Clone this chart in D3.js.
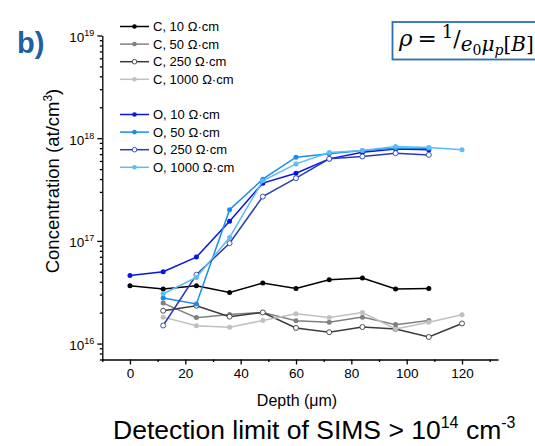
<!DOCTYPE html>
<html>
<head>
<meta charset="utf-8">
<script src="https://cdn.jsdelivr.net/npm/d3@7"></script>
<style>
  body { margin: 0; background: #fff; }
  svg { display: block; font-family: "Liberation Sans", Arial, sans-serif; }
  .axis path, .axis line { stroke: #000; stroke-width: 1.3; }
  .axis text { font-size: 13.5px; fill: #000; font-family: "Liberation Sans", Arial, sans-serif; }
  .legend text { font-size: 13px; }
</style>
</head>
<body>
<div id="chart"></div>
<script>
// depth positions (µm)
const depth0to108  = [0, 12, 24, 36, 48, 60, 72, 84, 96, 108];
const depth12to108 = [12, 24, 36, 48, 60, 72, 84, 96, 108];
const depth12to120 = [12, 24, 36, 48, 60, 72, 84, 96, 108, 120];

// concentrations (at/cm3)
const c10   = [3.66e16, 3.4e16, 3.66e16, 3.15e16, 3.88e16, 3.44e16, 4.19e16, 4.35e16, 3.4e16, 3.44e16];
const c50   = [2.48e16, 1.79e16, 1.92e16, 2.01e16, 1.67e16, 1.61e16, 1.81e16, 1.53e16, 1.68e16];
const c250  = [2.09e16, 2.34e16, 1.83e16, 2.01e16, 1.42e16, 1.29e16, 1.45e16, 1.39e16, 1.16e16, 1.57e16];
const c1000 = [1.81e16, 1.49e16, 1.44e16, 1.68e16, 1.95e16, 1.8e16, 2.01e16, 1.39e16, 1.61e16, 1.91e16];
const o10   = [4.61e16, 5.0e16, 6.95e16, 1.55e17, 3.65e17, 4.56e17, 6.29e17, 7.31e17, 7.87e17, 7.7e17];
const o50   = [2.78e16, 2.43e16, 2.01e17, 3.99e17, 6.54e17, 7.04e17, 7.57e17, 8.0e17, 8.0e17];
const o250  = [1.5e16, 4.68e16, 9.5e16, 2.7e17, 4.08e17, 6.3e17, 6.63e17, 7.15e17, 6.88e17];
const o1000 = [3.06e16, 4.41e16, 1.08e17, 3.85e17, 5.62e17, 7.24e17, 7.57e17, 8.3e17, 8.1e17, 7.7e17];

const seriesNames = ["C, 10 \u03A9\u00B7cm", "C, 50 \u03A9\u00B7cm", "C, 250 \u03A9\u00B7cm", "C, 1000 \u03A9\u00B7cm",
                     "O, 10 \u03A9\u00B7cm", "O, 50 \u03A9\u00B7cm", "O, 250 \u03A9\u00B7cm", "O, 1000 \u03A9\u00B7cm"];
const xTicks = [0, 20, 40, 60, 80, 100, 120];
const xMinor = [-10, 10, 30, 50, 70, 90, 110, 130];
const yExps  = [16, 17, 18, 19];

const series = [
  { name: seriesNames[0], x: depth0to108,  y: c10,   color: "#000000", open: false },
  { name: seriesNames[1], x: depth12to108, y: c50,   color: "#808080", open: false },
  { name: seriesNames[2], x: depth12to120, y: c250,  color: "#3c3c3c", open: true  },
  { name: seriesNames[3], x: depth12to120, y: c1000, color: "#c0c0c0", open: false },
  { name: seriesNames[4], x: depth0to108,  y: o10,   color: "#0a14e6", open: false },
  { name: seriesNames[5], x: depth12to108, y: o50,   color: "#1a8cf0", open: false },
  { name: seriesNames[6], x: depth12to108, y: o250,  color: "#2a3cb4", open: true  },
  { name: seriesNames[7], x: depth12to120, y: o1000, color: "#5cbcf6", open: false }
];

const W = 535, H = 446;
const svg = d3.select("#chart").append("svg").attr("width", W).attr("height", H);

// plot box: left axis at x≈102, bottom axis at y≈359.5
const x = d3.scaleLinear().domain([-10, 133]).range([102.3, 498]);
const y = d3.scaleLog().domain([7e15, 1e19]).range([359.5, 35.5]);

// lines + markers
const line = d3.line().x(d => x(d[0])).y(d => y(d[1]));
series.forEach(s => {
  const pts = s.x.map((d, i) => [d, s.y[i]]);
  svg.append("path").datum(pts)
    .attr("fill", "none").attr("stroke", s.color).attr("stroke-width", 1.5)
    .attr("d", line);
  svg.append("g").selectAll("circle").data(pts).join("circle")
    .attr("cx", d => x(d[0])).attr("cy", d => y(d[1])).attr("r", 2.5)
    .attr("fill", s.open ? "#fff" : s.color)
    .attr("stroke", s.color).attr("stroke-width", s.open ? 0.9 : 0);
});

// x axis, major + minor ticks
svg.append("g").attr("class", "axis")
  .attr("transform", `translate(0,${y.range()[0]})`)
  .call(d3.axisBottom(x).tickValues(xTicks).tickSize(5).tickSizeOuter(0).tickPadding(4));
svg.append("g").attr("class", "axis")
  .attr("transform", `translate(0,${y.range()[0]})`)
  .call(d3.axisBottom(x).tickValues(xMinor).tickSize(2.5).tickSizeOuter(0).tickFormat(""))
  .select(".domain").remove();

// y axis (log), labels written as 10^n
const yMinor = [];
[15, 16, 17, 18].forEach(e => d3.range(2, 10).forEach(m => {
  const v = m * Math.pow(10, e);
  if (v >= 7e15 && v <= 1e19) yMinor.push(v);
}));
const yAxis = svg.append("g").attr("class", "axis")
  .attr("transform", `translate(${x.range()[0]},0)`)
  .call(d3.axisLeft(y).tickValues(yExps.map(e => Math.pow(10, e))).tickSize(5).tickSizeOuter(0).tickFormat(""));
yAxis.selectAll(".tick text").each(function (d) {
  const t = d3.select(this).attr("x", -8).attr("dy", "0.45em").attr("text-anchor", "end");
  t.append("tspan").text("10");
  t.append("tspan").attr("dy", -6).attr("font-size", 9).text(Math.round(Math.log10(d)));
});
svg.append("g").attr("class", "axis")
  .attr("transform", `translate(${x.range()[0]},0)`)
  .call(d3.axisLeft(y).tickValues(yMinor).tickSize(2.5).tickSizeOuter(0).tickFormat(""))
  .select(".domain").remove();

// axis titles
svg.append("text").attr("x", 297).attr("y", 406).attr("text-anchor", "middle")
  .attr("font-size", 16).text("Depth (\u03BCm)");
const yt = svg.append("text").attr("transform", "translate(59,181) rotate(-90)")
  .attr("text-anchor", "middle").attr("font-size", 18.5);
yt.append("tspan").text("Concentration (at/cm");
yt.append("tspan").attr("dy", -7).attr("font-size", 12).text("3");
yt.append("tspan").attr("dy", 7).text(")");

// legend
const legend = svg.append("g").attr("class", "legend");
series.forEach((s, i) => {
  const ly = 26.5 + (i < 4 ? i : i + 1) * 17.6;
  const g = legend.append("g").attr("transform", `translate(120,${ly})`);
  g.append("line").attr("x1", 0).attr("x2", 29).attr("stroke", s.color).attr("stroke-width", 1.5);
  g.append("circle").attr("cx", 14.5).attr("r", 2.3)
    .attr("fill", s.open ? "#fff" : s.color).attr("stroke", s.color).attr("stroke-width", s.open ? 0.9 : 0);
  g.append("text").attr("x", 33).attr("y", 4.6).text(s.name);
});

// panel label
svg.append("text").attr("x", 17).attr("y", 53).attr("font-size", 29).attr("font-weight", "bold")
  .attr("fill", "#1f5fa6").text("b)");

// formula box
svg.append("rect").attr("x", 392.5).attr("y", 22).attr("width", 170).attr("height", 37.5)
  .attr("fill", "none").attr("stroke", "#2f6eb5").attr("stroke-width", 1.8);
const f = svg.append("text").attr("x", 399).attr("y", 46).attr("font-size", 23)
  .attr("font-family", "'DejaVu Serif', 'Liberation Serif', serif");
f.append("tspan").attr("font-style", "italic").text("\u03C1");
f.append("tspan").attr("dx", 5).text("=");
f.append("tspan").attr("dx", 5).attr("dy", -8).attr("font-size", 18).text("1");
f.append("tspan").attr("dy", 8).attr("font-size", 22).text("/");
f.append("tspan").attr("dy", 5).attr("font-size", 20).attr("font-style", "italic").text("e");
f.append("tspan").attr("dy", 4).attr("font-size", 14).text("0");
f.append("tspan").attr("dy", -4).attr("font-size", 20).attr("font-style", "italic").text("\u03BC");
f.append("tspan").attr("dy", 4).attr("font-size", 14).attr("font-style", "italic").text("p");
f.append("tspan").attr("dy", -4).attr("font-size", 20).text("[");
f.append("tspan").attr("font-size", 20).attr("font-style", "italic").text("B");
f.append("tspan").attr("font-size", 20).text("]");

// footnote
const foot = svg.append("text").attr("x", 113).attr("y", 439).attr("font-size", 26.5);
foot.append("tspan").text("Detection limit of SIMS > 10");
foot.append("tspan").attr("dy", -11).attr("font-size", 16).text("14");
foot.append("tspan").attr("dy", 11).text(" cm");
foot.append("tspan").attr("dy", -11).attr("font-size", 16).text("-3");
</script>
</body>
</html>
